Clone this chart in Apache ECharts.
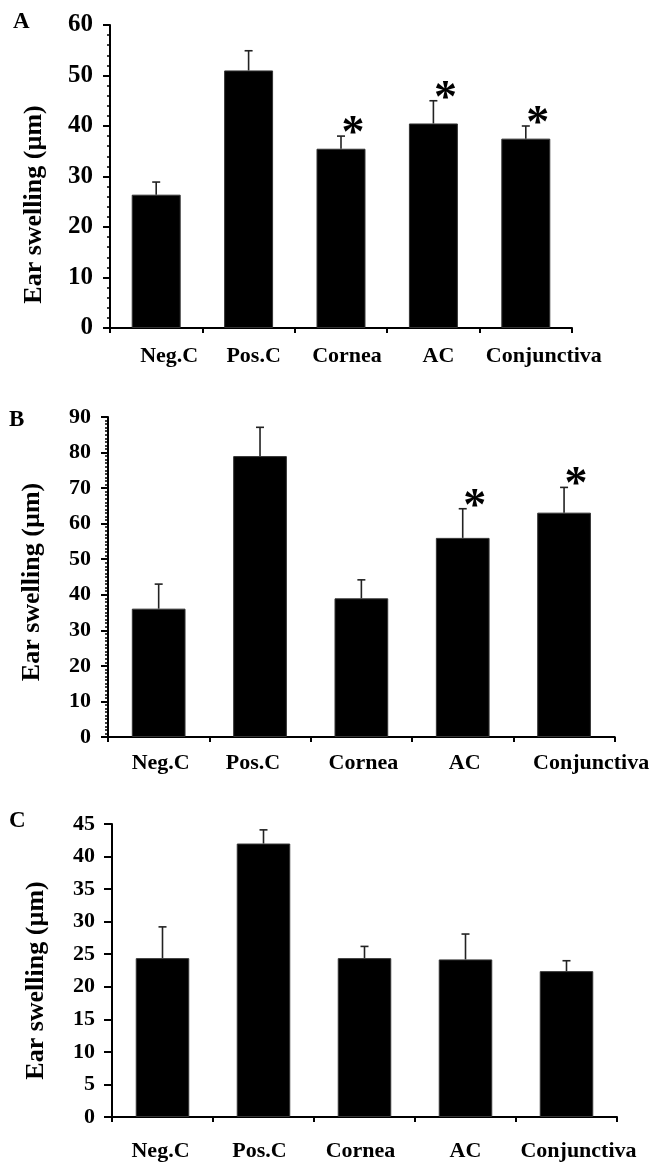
<!DOCTYPE html>
<html>
<head>
<meta charset="utf-8">
<script src="https://cdn.jsdelivr.net/npm/echarts@6/dist/echarts.min.js"></script>
<style>
html,body{margin:0;padding:0;background:#fff;}
#chart{width:652px;height:1162px;}
</style>
</head>
<body>
<div id="chart"></div>
<script>
// ---- data ----
const categories = ['Neg.C', 'Pos.C', 'Cornea', 'AC', 'Conjunctiva'];
const panelLetters = ['A', 'B', 'C'];
const yTitle = 'Ear swelling (\u00b5m)';

const meanA = [26.4, 51.0, 35.5, 40.5, 37.5];
const upperA = [28.9, 54.9, 38.0, 45.0, 40.0];
const starA = [0, 0, 1, 1, 1];

const meanB = [36.1, 79.0, 39.0, 56.0, 63.1];
const upperB = [43.0, 87.1, 44.2, 64.2, 70.2];
const starB = [0, 0, 0, 1, 1];

const meanC = [24.4, 42.0, 24.4, 24.2, 22.4];
const upperC = [29.2, 44.1, 26.2, 28.1, 24.0];
const starC = [0, 0, 0, 0, 0];

const yMaxes = [60, 90, 45];
const yIntervals = [10, 10, 5];

// ---- layout / style ----
const FONT = "'Liberation Serif','Times New Roman',serif";
const grids = [
  {left: 110, top: 25, width: 462, height: 303},
  {left: 108, top: 417, width: 508, height: 320},
  {left: 112, top: 824, width: 505, height: 295}
];
const labelShift = [[13, 5, 6, 5, 18], [2, -7, 2, 2, 27], [-2, -4, -4, 0, 12]];
const catMargin = [17, 15, 23];
const tickFont = [25, 22, 22];
const tickShift = [18, 16, 4];
const minorSplit = [5, 10, 0];
const titleShift = [56, 10, 20];

function richFor(p) {
  const r = {};
  labelShift[p].forEach((s, i) => {
    r['p' + i] = {
      fontFamily: FONT, fontWeight: 'bold', fontSize: 22, color: '#000',
      padding: s >= 0 ? [0, 0, 0, 2 * s] : [0, -2 * s, 0, 0]
    };
  });
  return r;
}

const means = [meanA, meanB, meanC];
const uppers = [upperA, upperB, upperC];
const stars = [starA, starB, starC];

const xAxis = [], yAxis = [], series = [];
for (let p = 0; p < 3; p++) {
  xAxis.push({
    type: 'category', gridIndex: p, data: categories, boundaryGap: true,
    axisLine: {lineStyle: {color: '#000', width: 2}},
    axisTick: {show: true, length: 5, inside: false, lineStyle: {color: '#000', width: 2}},
    axisLabel: {
      interval: 0, margin: catMargin[p],
      fontFamily: FONT, fontWeight: 'bold', fontSize: 22, color: '#000',
      formatter: (v, i) => '{p' + i + '|' + v + '}',
      rich: richFor(p)
    },
    splitLine: {show: false}
  });
  yAxis.push({
    type: 'value', gridIndex: p, min: 0, max: yMaxes[p], interval: yIntervals[p],
    name: yTitle, nameLocation: 'middle', nameRotate: 90, nameGap: 63,
    nameTextStyle: {
      fontFamily: FONT, fontWeight: 'bold', fontSize: 26, color: '#000',
      padding: [0, titleShift[p], 0, 0]
    },
    axisLine: {show: true, lineStyle: {color: '#000', width: 2}},
    axisTick: {show: true, length: p === 2 ? 8 : 7, lineStyle: {color: '#000', width: 2}},
    minorTick: {show: minorSplit[p] > 0, splitNumber: minorSplit[p] || 5, length: 3, lineStyle: {color: '#000', width: 1.5}},
    axisLabel: {
      margin: 17, fontFamily: FONT, fontWeight: 'bold', fontSize: tickFont[p], color: '#000',
      padding: [tickShift[p], 0, 0, 0]
    },
    splitLine: {show: false}
  });
  series.push({
    type: 'bar', xAxisIndex: p, yAxisIndex: p, data: means[p], barWidth: '53%',
    itemStyle: {color: '#000', borderColor: '#333', borderWidth: 1},
    silent: true, animation: false
  });
  series.push({
    type: 'custom', xAxisIndex: p, yAxisIndex: p, animation: false, silent: true, z: 5,
    data: means[p].map((m, i) => [i, m, uppers[p][i], stars[p][i]]),
    encode: {x: 0, y: 2},
    renderItem: function (params, api) {
      const base = api.coord([api.value(0), api.value(1)]);
      const top = api.coord([api.value(0), api.value(2)]);
      const children = [
        {type: 'line', shape: {x1: base[0], y1: base[1], x2: top[0], y2: top[1]},
         style: {stroke: '#222', lineWidth: 1.6}},
        {type: 'line', shape: {x1: top[0] - 4, y1: top[1], x2: top[0] + 4, y2: top[1]},
         style: {stroke: '#222', lineWidth: 1.6}}
      ];
      if (api.value(3)) {
        children.push({
          type: 'text', x: top[0] + 12, y: top[1] - 1,
          style: {text: '*', font: 'bold 46px ' + FONT, fill: '#000',
                  align: 'center', verticalAlign: 'middle'}
        });
      }
      return {type: 'group', children: children};
    }
  });
}

const chart = echarts.init(document.getElementById('chart'), null, {renderer: 'canvas'});
chart.setOption({
  backgroundColor: '#fff',
  animation: false,
  grid: grids,
  xAxis: xAxis,
  yAxis: yAxis,
  series: series,
  graphic: [
    {type: 'text', left: 13, top: 11, style: {text: panelLetters[0], font: 'bold 23px ' + FONT, fill: '#000'}},
    {type: 'text', left: 9, top: 409, style: {text: panelLetters[1], font: 'bold 23px ' + FONT, fill: '#000'}},
    {type: 'text', left: 9, top: 810, style: {text: panelLetters[2], font: 'bold 23px ' + FONT, fill: '#000'}}
  ]
});
</script>
</body>
</html>
